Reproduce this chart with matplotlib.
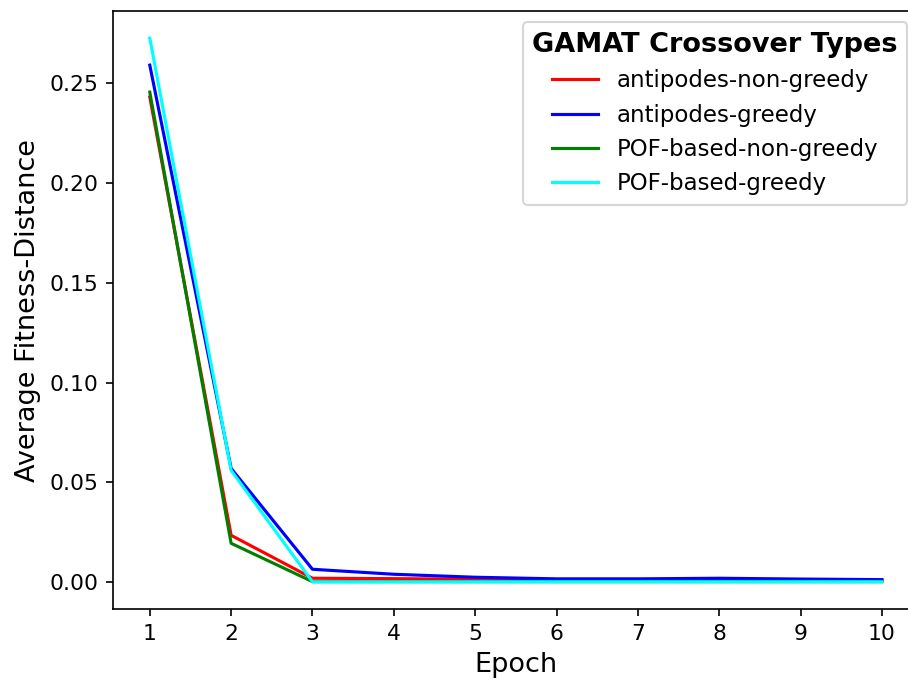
import matplotlib
matplotlib.use("Agg")
import matplotlib.pyplot as plt

# average fitness-distance per epoch for each crossover type
epochs = [1, 2, 3, 4, 5, 6, 7, 8, 9, 10]
antipodes_non_greedy = [0.243, 0.0235, 0.0020, 0.0018, 0.0015, 0.0013, 0.0012, 0.0012, 0.0011, 0.0010]
antipodes_greedy = [0.259, 0.0570, 0.0065, 0.0040, 0.0025, 0.0017, 0.0017, 0.0020, 0.0016, 0.0013]
pof_non_greedy = [0.2455, 0.0195, 0.0003, 0.0003, 0.0003, 0.0003, 0.0003, 0.0003, 0.0003, 0.0003]
pof_greedy = [0.2725, 0.0560, 0.0002, 0.0002, 0.0002, 0.0002, 0.0002, 0.0002, 0.0002, 0.0002]

fig, ax = plt.subplots(figsize=(6.06, 4.58), dpi=150)
# right edge of the axes runs slightly past the canvas
fig.subplots_adjust(left=0.1245, right=1.0105, top=0.984, bottom=0.1135)

ax.plot(epochs, antipodes_non_greedy, color="red", label="antipodes-non-greedy")
ax.plot(epochs, antipodes_greedy, color="blue", label="antipodes-greedy")
ax.plot(epochs, pof_non_greedy, color="green", label="POF-based-non-greedy")
ax.plot(epochs, pof_greedy, color="cyan", label="POF-based-greedy")

ax.set_xticks(epochs)
ax.set_xlabel("Epoch", fontsize=13)
ax.set_ylabel("Average Fitness-Distance", fontsize=13)
ax.tick_params(labelsize=10.5)

leg = ax.legend(title="GAMAT Crossover Types", fontsize=11,
                title_fontproperties={"weight": "bold", "size": 13})

fig.savefig("out.png", dpi=150)
